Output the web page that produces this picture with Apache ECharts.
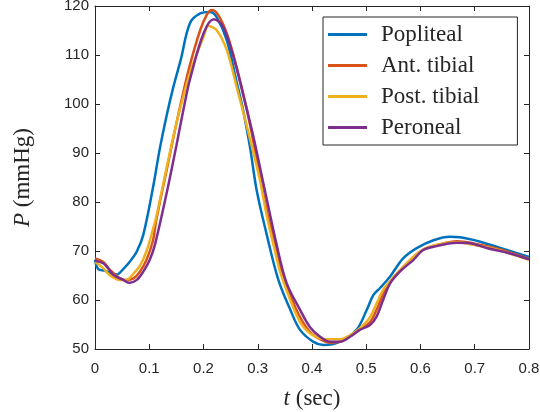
<!DOCTYPE html>
<html>
<head>
<meta charset="utf-8">
<script src="https://cdn.jsdelivr.net/npm/echarts@6/dist/echarts.min.js"></script>
<style>
  html, body { margin: 0; padding: 0; background: #fff; }
  #chart { width: 540px; height: 412px; }
</style>
</head>
<body>
<div id="chart"></div>
<script>
// Pressure waveforms (mmHg) over one cardiac cycle at four lower-leg arteries
const seriesNames = ['Popliteal', 'Ant. tibial', 'Post. tibial', 'Peroneal'];
const seriesColors = ['#0072BD', '#D95319', '#EDB120', '#7E2F8E'];

const tPopliteal = [0, 0.006, 0.018, 0.031, 0.040, 0.052, 0.064, 0.077, 0.089, 0.107, 0.119, 0.132, 0.144, 0.158, 0.175, 0.194, 0.212, 0.224, 0.243, 0.261, 0.273, 0.286, 0.298, 0.316, 0.338, 0.360, 0.378, 0.402, 0.421, 0.452, 0.482, 0.501, 0.513, 0.525, 0.544, 0.568, 0.593, 0.624, 0.654, 0.673, 0.710, 0.759, 0.800];
const pPopliteal = [68.2, 66.3, 66.0, 65.4, 65.2, 66.3, 67.8, 69.9, 73.3, 83.0, 90.6, 97.6, 103.3, 109.0, 116.5, 118.5, 118.8, 117.8, 113.0, 104.5, 98.8, 91.0, 82.4, 73.6, 64.1, 58.0, 53.9, 51.5, 50.8, 51.5, 53.9, 58.0, 61.0, 62.4, 64.8, 68.5, 70.6, 72.2, 72.9, 72.8, 71.9, 70.2, 68.8];

const tAntTibial = [0, 0.015, 0.028, 0.046, 0.058, 0.071, 0.083, 0.095, 0.107, 0.113, 0.132, 0.150, 0.163, 0.175, 0.194, 0.206, 0.215, 0.227, 0.243, 0.261, 0.280, 0.301, 0.316, 0.335, 0.341, 0.360, 0.378, 0.396, 0.415, 0.433, 0.452, 0.470, 0.488, 0.507, 0.519, 0.532, 0.544, 0.562, 0.587, 0.605, 0.630, 0.667, 0.700, 0.740, 0.800];
const pAntTibial = [68.5, 67.8, 66.1, 64.4, 64.1, 64.4, 65.8, 68.2, 72.2, 76.3, 86.5, 96.0, 102.5, 108.0, 115.1, 118.2, 119.2, 118.2, 114.4, 107.6, 98.8, 87.2, 78.5, 70.0, 67.0, 61.0, 56.5, 53.5, 52.0, 51.3, 51.5, 52.7, 54.0, 55.5, 58.0, 61.5, 63.8, 66.0, 68.8, 70.3, 71.2, 72.0, 71.5, 70.5, 68.4];

const tPostTibial = [0, 0.015, 0.028, 0.046, 0.058, 0.071, 0.083, 0.095, 0.107, 0.113, 0.132, 0.150, 0.175, 0.200, 0.209, 0.224, 0.243, 0.261, 0.280, 0.304, 0.316, 0.335, 0.341, 0.360, 0.378, 0.396, 0.415, 0.427, 0.452, 0.470, 0.488, 0.507, 0.519, 0.532, 0.544, 0.562, 0.587, 0.605, 0.630, 0.667, 0.700, 0.740, 0.800];
const pPostTibial = [67.8, 66.5, 65.0, 64.1, 64.1, 65.4, 67.0, 70.0, 74.5, 77.0, 87.0, 96.0, 106.3, 113.7, 115.9, 115.1, 111.0, 103.5, 95.4, 84.5, 77.5, 68.5, 65.8, 60.0, 55.5, 53.2, 52.2, 52.0, 52.0, 52.8, 54.2, 56.5, 59.3, 62.2, 63.8, 66.0, 68.8, 70.3, 71.3, 71.8, 71.2, 70.3, 68.2];

const tPeroneal = [0, 0.015, 0.024, 0.034, 0.052, 0.064, 0.077, 0.089, 0.101, 0.111, 0.132, 0.150, 0.166, 0.175, 0.200, 0.219, 0.236, 0.255, 0.274, 0.292, 0.310, 0.335, 0.353, 0.378, 0.396, 0.415, 0.433, 0.452, 0.470, 0.488, 0.507, 0.519, 0.531, 0.544, 0.562, 0.587, 0.605, 0.630, 0.667, 0.691, 0.722, 0.765, 0.800];
const pPeroneal = [68.0, 67.5, 66.5, 65.1, 64.1, 63.5, 64.1, 65.8, 68.2, 71.5, 81.8, 91.5, 100.5, 105.0, 114.4, 117.3, 115.8, 109.7, 101.5, 93.3, 84.0, 71.2, 63.5, 58.0, 54.5, 52.5, 51.5, 51.5, 52.5, 53.9, 54.9, 56.6, 60.0, 63.4, 65.8, 68.2, 70.2, 71.0, 71.7, 71.6, 70.6, 69.5, 68.3];

const xTicks = { min: 0, max: 0.8, interval: 0.1 };
const yTicks = { min: 50, max: 120, interval: 10 };

const times = [tPopliteal, tAntTibial, tPostTibial, tPeroneal];
const pressures = [pPopliteal, pAntTibial, pPostTibial, pPeroneal];

const axisInk = '#262626';
const serif = 'Liberation Serif';
const sans = 'Liberation Sans';
const serifSize = 23;

function pairs(t, p) { return t.map((v, i) => [v, p[i]]); }

function frameAxis(extra) {
  return Object.assign({
    type: 'value',
    axisLine: { show: true, onZero: false, lineStyle: { color: axisInk, width: 1 } },
    axisTick: { show: true, inside: true, length: 5, lineStyle: { color: axisInk, width: 1 } },
    splitLine: { show: false },
    axisLabel: { show: false }
  }, extra);
}

function nameStyle() {
  return {
    color: axisInk, fontFamily: serif, fontSize: serifSize,
    rich: { i: { fontStyle: 'italic', fontFamily: serif, fontSize: serifSize, color: axisInk } }
  };
}

const chart = echarts.init(document.getElementById('chart'), null, { renderer: 'canvas' });

chart.setOption({
  animation: false,
  backgroundColor: '#ffffff',
  grid: { left: 95, right: 11, top: 6, bottom: 63, containLabel: false, outerBoundsMode: 'none' },
  xAxis: [
    frameAxis(Object.assign({}, xTicks, {
      position: 'bottom',
      axisLabel: { show: true, margin: 12, color: axisInk, fontFamily: sans, fontSize: 15,
                   formatter: v => String(+v.toFixed(1)) },
      name: '{i|t} (sec)',
      nameLocation: 'middle',
      nameGap: 38,
      nameTextStyle: nameStyle()
    })),
    frameAxis(Object.assign({}, xTicks, { position: 'top' }))
  ],
  yAxis: [
    frameAxis(Object.assign({}, yTicks, {
      position: 'left',
      axisLabel: { show: true, margin: 6, color: axisInk, fontFamily: sans, fontSize: 15 },
      name: '{i|P} (mmHg)',
      nameLocation: 'middle',
      nameGap: 61,
      nameTextStyle: nameStyle()
    })),
    frameAxis(Object.assign({}, yTicks, { position: 'right' }))
  ],
  legend: {
    orient: 'vertical',
    left: 323,
    top: 17,
    padding: [6, 38, 6, 5],
    itemGap: 8,
    itemWidth: 39,
    itemHeight: 3,
    icon: 'rect',
    backgroundColor: '#ffffff',
    borderColor: axisInk,
    borderWidth: 1,
    borderRadius: 0,
    textStyle: { color: axisInk, fontFamily: serif, fontSize: serifSize, padding: [0, 0, 0, 9] },
    data: seriesNames
  },
  series: seriesNames.map((name, k) => ({
    name,
    type: 'line',
    xAxisIndex: 0,
    yAxisIndex: 0,
    data: pairs(times[k], pressures[k]),
    smooth: 0.35,
    showSymbol: false,
    symbol: 'none',
    color: seriesColors[k],
    lineStyle: { width: 2.5, color: seriesColors[k] },
    z: 2 + k
  }))
});
</script>
</body>
</html>
